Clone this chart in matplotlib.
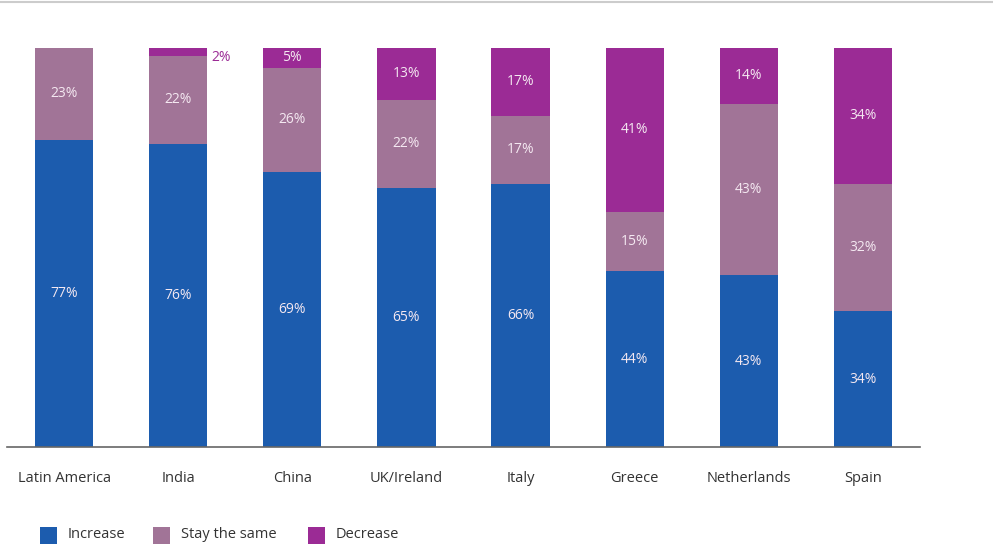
import numpy as np
import matplotlib.pyplot as plt
from matplotlib.patches import Rectangle
from matplotlib.lines import Line2D

plt.rcParams['font.family'] = ['Open Sans', 'DejaVu Sans']

# Expected change by region, percent of respondents
regions = ['Latin America', 'India', 'China', 'UK/Ireland', 'Italy',
           'Greece', 'Netherlands', 'Spain']
increase = [77, 76, 69, 65, 66, 44, 43, 34]
same = [23, 22, 26, 22, 17, 15, 43, 32]
decrease = [0, 2, 5, 13, 17, 41, 14, 34]

series = ['Increase', 'Stay the same', 'Decrease']
colors = ['#1c5cae', '#a17497', '#9b2b95']
label_color = '#f4e8f1'

fig = plt.figure(figsize=(9.93, 5.46), dpi=100)
ax = fig.add_axes([7 / 993, 1 - 447 / 546, 913 / 993, (447 - 48) / 546])

x = np.arange(len(regions))
width = 0.51
bottom = np.zeros(len(regions))
for vals, col in zip([increase, same, decrease], colors):
    vals = np.array(vals, dtype=float)
    ax.bar(x, vals, width, bottom=bottom, color=col, edgecolor='none')
    for xi, b, v in zip(x, bottom, vals):
        if v >= 5:
            ax.text(xi, b + v / 2, f'{int(v)}%', ha='center', va='center',
                    fontsize=10, color=label_color)
        elif v > 0:
            # thin slice: put its label beside the bar, just below its top
            ax.text(xi + width / 2 + 0.04, b - 0.5, f'{int(v)}%', ha='left',
                    va='center', fontsize=10, color=col)
    bottom += vals

ax.set_xlim(-0.5, 7.5)
ax.set_ylim(0, 100)
ax.set_xticks(x)
ax.set_xticklabels(regions, fontsize=10.5, color='#333333')
ax.tick_params(axis='x', length=0, pad=17)
ax.set_yticks([])
for s in ['top', 'left', 'right']:
    ax.spines[s].set_visible(False)
ax.spines['bottom'].set_color('#666666')
ax.spines['bottom'].set_linewidth(1.2)

# thin rule across the top of the figure
fig.add_artist(Line2D([0, 1], [1 - 1.5 / 546, 1 - 1.5 / 546], color='#cccccc', lw=1.5))

# legend row
legend_x = [40, 153, 308]
for lx, name, col in zip(legend_x, series, colors):
    fig.add_artist(Rectangle((lx / 993, 1 - 544 / 546), 17 / 993, 17 / 546,
                             facecolor=col, edgecolor='none'))
    fig.text((lx + 28) / 993, 1 - 535 / 546, name, ha='left', va='center',
             fontsize=10.5, color='#333333')

fig.savefig('out.png', dpi=100)
